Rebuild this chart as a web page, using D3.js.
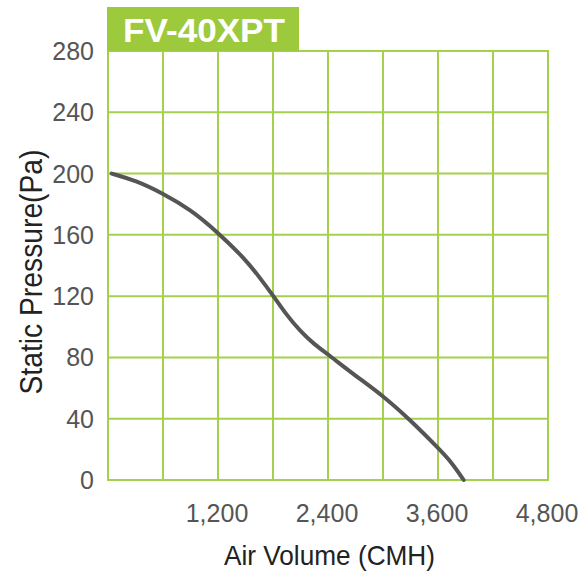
<!DOCTYPE html>
<html>
<head>
<meta charset="utf-8">
<script src="https://cdn.jsdelivr.net/npm/d3@7"></script>
<style>
  html, body { margin: 0; padding: 0; background: #fff; }
  svg { display: block; }
  text { font-family: "Liberation Sans", Arial, sans-serif; }
</style>
</head>
<body>
<svg id="chart" width="582" height="573"></svg>
<script>
const title = "FV-40XPT";
const xTitle = "Air Volume (CMH)";
const yTitle = "Static Pressure(Pa)";
const xGrid = [0, 600, 1200, 1800, 2400, 3000, 3600, 4200, 4800];
const xTickLabels = [1200, 2400, 3600, 4800];
const yTicks = [0, 40, 80, 120, 160, 200, 240, 280];
const airVolume = [40, 300, 600, 900, 1200, 1500, 1650, 1800, 1950, 2100, 2250, 2400, 2700, 3000, 3300, 3600, 3750, 3880];
const pressure  = [200, 195.5, 187, 176.5, 161.5, 144, 132.5, 120.5, 107.5, 97, 88.5, 82, 68, 55, 39, 21, 11.5, 0];

const svg = d3.select("#chart");
const x = d3.scaleLinear().domain([0, 4800]).range([108, 548]);
const y = d3.scaleLinear().domain([0, 280]).range([480, 51]);
const green = "#a5d04b";

// grid
svg.append("g").selectAll("line").data(xGrid).join("line")
  .attr("x1", d => x(d)).attr("x2", d => x(d))
  .attr("y1", y(0)).attr("y2", y(280))
  .attr("stroke", green).attr("stroke-width", 2);
svg.append("g").selectAll("line").data(yTicks).join("line")
  .attr("x1", x(0) - 1).attr("x2", x(4800) + 1)
  .attr("y1", d => y(d)).attr("y2", d => y(d))
  .attr("stroke", green).attr("stroke-width", 2);

// title box
svg.append("rect").attr("x", 107).attr("y", 7).attr("width", 192).attr("height", 44)
  .attr("fill", "#9dca3c");
svg.append("text").attr("x", 204).attr("y", 42)
  .attr("text-anchor", "middle").attr("fill", "#fff")
  .attr("font-weight", "bold").attr("font-size", 34)
  .attr("textLength", 162).attr("lengthAdjust", "spacingAndGlyphs")
  .text(title);

// y axis labels
svg.append("g").selectAll("text").data(yTicks).join("text")
  .attr("x", 94).attr("y", d => y(d)).attr("dy", "0.36em")
  .attr("text-anchor", "end").attr("fill", "#555").attr("font-size", 25)
  .text(d => d);

// x axis labels
svg.append("g").selectAll("text").data(xTickLabels).join("text")
  .attr("x", d => x(d) - 1).attr("y", 522)
  .attr("text-anchor", "middle").attr("fill", "#555").attr("font-size", 25)
  .text(d => d3.format(",")(d));

// axis titles
svg.append("text").attr("x", 329.5).attr("y", 565)
  .attr("text-anchor", "middle").attr("fill", "#222").attr("font-size", 28)
  .attr("textLength", 211).attr("lengthAdjust", "spacingAndGlyphs")
  .text(xTitle);
svg.append("text").attr("transform", "translate(41.5,272) rotate(-90)")
  .attr("text-anchor", "middle").attr("fill", "#222").attr("font-size", 31)
  .attr("textLength", 245).attr("lengthAdjust", "spacingAndGlyphs")
  .text(yTitle);

// curve
const line = d3.line().x((d, i) => x(airVolume[i])).y(d => y(d)).curve(d3.curveBasis);
svg.append("path").datum(pressure).attr("d", line)
  .attr("fill", "none").attr("stroke", "#555").attr("stroke-width", 4)
  .attr("stroke-linecap", "round");
</script>
</body>
</html>
